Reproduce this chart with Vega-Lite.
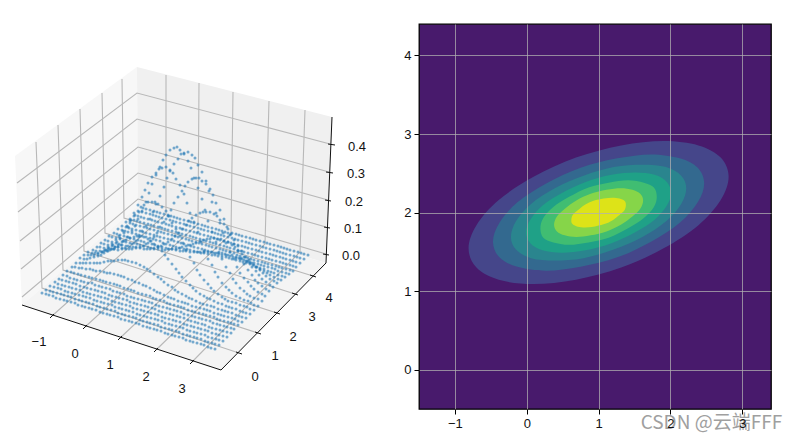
{"$schema":"https://vega.github.io/schema/vega-lite/v6.json","background":"white","padding":{"left":0,"top":23,"right":0,"bottom":0},"spacing":19,"bounds":"flush","config":{"font":"Liberation Sans"},"resolve":{"scale":{"fill":"independent"}},
"datasets":{
"panes":[{"pane":"a","i":0,"sx":15,"sy":155},{"pane":"a","i":1,"sx":137,"sy":66},{"pane":"a","i":2,"sx":138,"sy":205},{"pane":"a","i":3,"sx":22,"sy":304},
{"pane":"b","i":0,"sx":137,"sy":66},{"pane":"b","i":1,"sx":332,"sy":116},{"pane":"b","i":2,"sx":326,"sy":262},{"pane":"b","i":3,"sx":138,"sy":205},
{"pane":"c","i":0,"sx":22,"sy":304},{"pane":"c","i":1,"sx":138,"sy":205},{"pane":"c","i":2,"sx":326,"sy":262},{"pane":"c","i":3,"sx":221,"sy":369}],
"grid":[
{"g":"x-1","i":0,"sx":52,"sy":315},{"g":"x-1","i":1,"sx":166,"sy":213},{"g":"x-1","i":2,"sx":166,"sy":74},
{"g":"x0","i":0,"sx":85,"sy":326},{"g":"x0","i":1,"sx":198,"sy":223},{"g":"x0","i":2,"sx":199,"sy":82},
{"g":"x1","i":0,"sx":120,"sy":337},{"g":"x1","i":1,"sx":231,"sy":233},{"g":"x1","i":2,"sx":233,"sy":91},
{"g":"x2","i":0,"sx":156,"sy":349},{"g":"x2","i":1,"sx":265,"sy":243},{"g":"x2","i":2,"sx":269,"sy":100},
{"g":"x3","i":0,"sx":192,"sy":361},{"g":"x3","i":1,"sx":300,"sy":251},{"g":"x3","i":2,"sx":305,"sy":109},
{"g":"y0","i":0,"sx":239,"sy":352},{"g":"y0","i":1,"sx":42,"sy":287},{"g":"y0","i":2,"sx":36,"sy":141},
{"g":"y1","i":0,"sx":258,"sy":332},{"g":"y1","i":1,"sx":63,"sy":269},{"g":"y1","i":2,"sx":58,"sy":124},
{"g":"y2","i":0,"sx":277,"sy":312},{"g":"y2","i":1,"sx":84,"sy":250},{"g":"y2","i":2,"sx":80,"sy":108},
{"g":"y3","i":0,"sx":295,"sy":293},{"g":"y3","i":1,"sx":105,"sy":232},{"g":"y3","i":2,"sx":102,"sy":92},
{"g":"y4","i":0,"sx":313,"sy":275},{"g":"y4","i":1,"sx":124,"sy":217},{"g":"y4","i":2,"sx":122,"sy":78},
{"g":"z0","i":0,"sx":22,"sy":296},{"g":"z0","i":1,"sx":138,"sy":198},{"g":"z0","i":2,"sx":326,"sy":253},
{"g":"z1","i":0,"sx":21,"sy":268},{"g":"z1","i":1,"sx":138,"sy":172},{"g":"z1","i":2,"sx":326,"sy":226},
{"g":"z2","i":0,"sx":20,"sy":240},{"g":"z2","i":1,"sx":138,"sy":146},{"g":"z2","i":2,"sx":328,"sy":199},
{"g":"z3","i":0,"sx":18,"sy":211},{"g":"z3","i":1,"sx":137,"sy":118},{"g":"z3","i":2,"sx":329,"sy":171},
{"g":"z4","i":0,"sx":17,"sy":182},{"g":"z4","i":1,"sx":137,"sy":92},{"g":"z4","i":2,"sx":330,"sy":143}],
"axes":[
{"g":"ax","i":0,"sx":22,"sy":304},{"g":"ax","i":1,"sx":221,"sy":369},
{"g":"ay","i":0,"sx":221,"sy":369},{"g":"ay","i":1,"sx":326,"sy":262},
{"g":"az","i":0,"sx":326,"sy":262},{"g":"az","i":1,"sx":332,"sy":116},
{"g":"t1","i":0,"sx":50,"sy":317},{"g":"t1","i":1,"sx":54,"sy":313},
{"g":"t2","i":0,"sx":83,"sy":328},{"g":"t2","i":1,"sx":87,"sy":324},
{"g":"t3","i":0,"sx":118,"sy":339},{"g":"t3","i":1,"sx":122,"sy":335},
{"g":"t4","i":0,"sx":154,"sy":351},{"g":"t4","i":1,"sx":158,"sy":347},
{"g":"t5","i":0,"sx":190,"sy":363},{"g":"t5","i":1,"sx":194,"sy":359},
{"g":"t6","i":0,"sx":236,"sy":351},{"g":"t6","i":1,"sx":242,"sy":353},
{"g":"t7","i":0,"sx":255,"sy":331},{"g":"t7","i":1,"sx":261,"sy":333},
{"g":"t8","i":0,"sx":274,"sy":311},{"g":"t8","i":1,"sx":280,"sy":313},
{"g":"t9","i":0,"sx":292,"sy":292},{"g":"t9","i":1,"sx":298,"sy":294},
{"g":"t10","i":0,"sx":310,"sy":274},{"g":"t10","i":1,"sx":316,"sy":276},
{"g":"t11","i":0,"sx":323,"sy":253},{"g":"t11","i":1,"sx":329,"sy":254},
{"g":"t12","i":0,"sx":324,"sy":226},{"g":"t12","i":1,"sx":330,"sy":227},
{"g":"t13","i":0,"sx":325,"sy":199},{"g":"t13","i":1,"sx":331,"sy":200},
{"g":"t14","i":0,"sx":326,"sy":171},{"g":"t14","i":1,"sx":333,"sy":172},
{"g":"t15","i":0,"sx":328,"sy":143},{"g":"t15","i":1,"sx":335,"sy":144}],
"labels":[{"label":"−1","sx":39,"sy":341},{"label":"0","sx":75,"sy":353},{"label":"1","sx":110,"sy":364},{"label":"2","sx":146,"sy":376},{"label":"3","sx":182,"sy":388},
{"label":"0","sx":255,"sy":376},{"label":"1","sx":275,"sy":355},{"label":"2","sx":293,"sy":336},{"label":"3","sx":312,"sy":316},{"label":"4","sx":329,"sy":297},
{"label":"0.0","sx":351,"sy":255},{"label":"0.1","sx":353,"sy":228},{"label":"0.2","sx":354,"sy":201},{"label":"0.3","sx":356,"sy":173},{"label":"0.4","sx":357,"sy":146}],
"points":[
{"sx":42,"sy":292},{"sx":46,"sy":293},{"sx":49,"sy":294},{"sx":53,"sy":295},{"sx":56,"sy":297},{"sx":60,"sy":298},{"sx":64,"sy":299},{"sx":67,"sy":300},{"sx":71,"sy":301},{"sx":75,"sy":302},{"sx":78,"sy":304},{"sx":82,"sy":305},{"sx":85,"sy":306},{"sx":89,"sy":307},{"sx":92,"sy":308},{"sx":96,"sy":309},{"sx":100,"sy":311},{"sx":103,"sy":312},{"sx":107,"sy":313},{"sx":110,"sy":314},{"sx":114,"sy":315},{"sx":118,"sy":316},{"sx":121,"sy":318},{"sx":125,"sy":319},{"sx":129,"sy":320},{"sx":132,"sy":321},{"sx":136,"sy":322},{"sx":139,"sy":323},{"sx":143,"sy":325},{"sx":147,"sy":326},{"sx":150,"sy":327},{"sx":154,"sy":328},{"sx":157,"sy":329},{"sx":161,"sy":330},{"sx":165,"sy":332},{"sx":168,"sy":333},{"sx":172,"sy":334},{"sx":175,"sy":335},{"sx":179,"sy":336},{"sx":183,"sy":337},{"sx":186,"sy":339},{"sx":190,"sy":340},{"sx":193,"sy":341},{"sx":197,"sy":342},{"sx":201,"sy":343},{"sx":204,"sy":344},{"sx":208,"sy":346},{"sx":211,"sy":347},{"sx":215,"sy":348},
{"sx":46,"sy":289},{"sx":50,"sy":290},{"sx":53,"sy":291},{"sx":57,"sy":292},{"sx":61,"sy":293},{"sx":64,"sy":294},{"sx":68,"sy":295},{"sx":71,"sy":296},{"sx":75,"sy":298},{"sx":79,"sy":299},{"sx":82,"sy":300},{"sx":86,"sy":301},{"sx":89,"sy":302},{"sx":93,"sy":303},{"sx":97,"sy":305},{"sx":100,"sy":306},{"sx":104,"sy":307},{"sx":107,"sy":308},{"sx":111,"sy":309},{"sx":115,"sy":310},{"sx":118,"sy":312},{"sx":122,"sy":313},{"sx":125,"sy":314},{"sx":129,"sy":315},{"sx":133,"sy":316},{"sx":136,"sy":317},{"sx":140,"sy":319},{"sx":143,"sy":320},{"sx":147,"sy":321},{"sx":150,"sy":322},{"sx":154,"sy":323},{"sx":158,"sy":324},{"sx":161,"sy":326},{"sx":165,"sy":327},{"sx":169,"sy":328},{"sx":172,"sy":329},{"sx":176,"sy":330},{"sx":179,"sy":331},{"sx":183,"sy":333},{"sx":187,"sy":334},{"sx":190,"sy":335},{"sx":194,"sy":336},{"sx":197,"sy":337},{"sx":201,"sy":338},{"sx":205,"sy":340},{"sx":208,"sy":341},{"sx":212,"sy":342},{"sx":215,"sy":343},{"sx":219,"sy":344},
{"sx":50,"sy":285},{"sx":54,"sy":286},{"sx":58,"sy":287},{"sx":61,"sy":288},{"sx":65,"sy":290},{"sx":68,"sy":291},{"sx":72,"sy":292},{"sx":75,"sy":293},{"sx":79,"sy":294},{"sx":83,"sy":295},{"sx":86,"sy":296},{"sx":90,"sy":297},{"sx":94,"sy":299},{"sx":97,"sy":300},{"sx":101,"sy":301},{"sx":104,"sy":302},{"sx":108,"sy":303},{"sx":112,"sy":304},{"sx":115,"sy":306},{"sx":119,"sy":307},{"sx":122,"sy":308},{"sx":126,"sy":309},{"sx":129,"sy":310},{"sx":133,"sy":311},{"sx":137,"sy":313},{"sx":140,"sy":314},{"sx":144,"sy":315},{"sx":147,"sy":316},{"sx":151,"sy":317},{"sx":155,"sy":318},{"sx":158,"sy":319},{"sx":162,"sy":320},{"sx":165,"sy":322},{"sx":169,"sy":323},{"sx":172,"sy":324},{"sx":176,"sy":325},{"sx":180,"sy":326},{"sx":183,"sy":327},{"sx":187,"sy":329},{"sx":190,"sy":330},{"sx":194,"sy":331},{"sx":197,"sy":332},{"sx":201,"sy":333},{"sx":205,"sy":334},{"sx":208,"sy":336},{"sx":212,"sy":337},{"sx":216,"sy":338},{"sx":219,"sy":339},{"sx":223,"sy":340},
{"sx":55,"sy":281},{"sx":58,"sy":283},{"sx":62,"sy":284},{"sx":65,"sy":285},{"sx":69,"sy":286},{"sx":72,"sy":287},{"sx":76,"sy":288},{"sx":80,"sy":289},{"sx":83,"sy":291},{"sx":87,"sy":292},{"sx":90,"sy":293},{"sx":94,"sy":294},{"sx":98,"sy":295},{"sx":101,"sy":296},{"sx":105,"sy":297},{"sx":108,"sy":298},{"sx":112,"sy":300},{"sx":115,"sy":301},{"sx":119,"sy":302},{"sx":122,"sy":303},{"sx":126,"sy":304},{"sx":130,"sy":305},{"sx":133,"sy":307},{"sx":137,"sy":308},{"sx":141,"sy":309},{"sx":144,"sy":310},{"sx":148,"sy":311},{"sx":151,"sy":312},{"sx":155,"sy":313},{"sx":158,"sy":314},{"sx":162,"sy":316},{"sx":165,"sy":317},{"sx":169,"sy":318},{"sx":173,"sy":319},{"sx":176,"sy":320},{"sx":180,"sy":321},{"sx":184,"sy":323},{"sx":187,"sy":324},{"sx":191,"sy":325},{"sx":194,"sy":326},{"sx":198,"sy":327},{"sx":201,"sy":328},{"sx":205,"sy":329},{"sx":208,"sy":330},{"sx":212,"sy":332},{"sx":216,"sy":333},{"sx":219,"sy":334},{"sx":223,"sy":335},{"sx":227,"sy":336},
{"sx":59,"sy":278},{"sx":62,"sy":279},{"sx":66,"sy":280},{"sx":69,"sy":281},{"sx":73,"sy":282},{"sx":76,"sy":283},{"sx":80,"sy":285},{"sx":84,"sy":286},{"sx":87,"sy":287},{"sx":91,"sy":288},{"sx":95,"sy":289},{"sx":98,"sy":290},{"sx":102,"sy":291},{"sx":105,"sy":292},{"sx":109,"sy":294},{"sx":112,"sy":295},{"sx":116,"sy":296},{"sx":119,"sy":297},{"sx":123,"sy":298},{"sx":127,"sy":299},{"sx":130,"sy":301},{"sx":134,"sy":302},{"sx":137,"sy":303},{"sx":141,"sy":304},{"sx":145,"sy":305},{"sx":148,"sy":306},{"sx":152,"sy":307},{"sx":155,"sy":308},{"sx":159,"sy":310},{"sx":162,"sy":311},{"sx":166,"sy":312},{"sx":170,"sy":313},{"sx":173,"sy":314},{"sx":177,"sy":315},{"sx":180,"sy":316},{"sx":184,"sy":317},{"sx":188,"sy":319},{"sx":191,"sy":320},{"sx":195,"sy":321},{"sx":198,"sy":322},{"sx":202,"sy":323},{"sx":205,"sy":324},{"sx":209,"sy":326},{"sx":212,"sy":327},{"sx":216,"sy":328},{"sx":220,"sy":329},{"sx":223,"sy":330},{"sx":227,"sy":331},{"sx":231,"sy":332},
{"sx":63,"sy":274},{"sx":67,"sy":275},{"sx":70,"sy":277},{"sx":74,"sy":278},{"sx":77,"sy":279},{"sx":81,"sy":280},{"sx":84,"sy":281},{"sx":88,"sy":282},{"sx":92,"sy":282},{"sx":95,"sy":284},{"sx":99,"sy":285},{"sx":102,"sy":286},{"sx":106,"sy":287},{"sx":110,"sy":288},{"sx":113,"sy":290},{"sx":117,"sy":291},{"sx":120,"sy":292},{"sx":124,"sy":293},{"sx":127,"sy":295},{"sx":131,"sy":296},{"sx":134,"sy":297},{"sx":138,"sy":298},{"sx":142,"sy":299},{"sx":145,"sy":300},{"sx":149,"sy":301},{"sx":152,"sy":302},{"sx":156,"sy":304},{"sx":159,"sy":305},{"sx":163,"sy":306},{"sx":167,"sy":307},{"sx":170,"sy":308},{"sx":174,"sy":309},{"sx":177,"sy":310},{"sx":181,"sy":311},{"sx":184,"sy":313},{"sx":188,"sy":314},{"sx":192,"sy":315},{"sx":195,"sy":316},{"sx":199,"sy":317},{"sx":202,"sy":318},{"sx":206,"sy":319},{"sx":210,"sy":320},{"sx":213,"sy":322},{"sx":217,"sy":323},{"sx":220,"sy":324},{"sx":224,"sy":325},{"sx":227,"sy":326},{"sx":231,"sy":327},{"sx":234,"sy":328},
{"sx":67,"sy":270},{"sx":71,"sy":271},{"sx":74,"sy":272},{"sx":78,"sy":273},{"sx":81,"sy":274},{"sx":85,"sy":275},{"sx":89,"sy":276},{"sx":92,"sy":277},{"sx":96,"sy":278},{"sx":100,"sy":279},{"sx":103,"sy":280},{"sx":106,"sy":281},{"sx":110,"sy":282},{"sx":114,"sy":283},{"sx":117,"sy":284},{"sx":120,"sy":285},{"sx":124,"sy":287},{"sx":128,"sy":288},{"sx":131,"sy":289},{"sx":134,"sy":290},{"sx":138,"sy":292},{"sx":142,"sy":293},{"sx":146,"sy":294},{"sx":150,"sy":295},{"sx":153,"sy":297},{"sx":156,"sy":298},{"sx":160,"sy":299},{"sx":164,"sy":300},{"sx":167,"sy":302},{"sx":170,"sy":303},{"sx":174,"sy":304},{"sx":178,"sy":305},{"sx":181,"sy":306},{"sx":184,"sy":307},{"sx":188,"sy":309},{"sx":192,"sy":310},{"sx":195,"sy":311},{"sx":199,"sy":312},{"sx":203,"sy":313},{"sx":206,"sy":314},{"sx":210,"sy":315},{"sx":214,"sy":316},{"sx":217,"sy":318},{"sx":220,"sy":319},{"sx":224,"sy":320},{"sx":228,"sy":321},{"sx":231,"sy":322},{"sx":234,"sy":323},{"sx":238,"sy":324},
{"sx":72,"sy":266},{"sx":75,"sy":266},{"sx":79,"sy":267},{"sx":82,"sy":267},{"sx":86,"sy":268},{"sx":90,"sy":268},{"sx":93,"sy":269},{"sx":96,"sy":270},{"sx":100,"sy":270},{"sx":104,"sy":271},{"sx":107,"sy":272},{"sx":110,"sy":272},{"sx":114,"sy":273},{"sx":118,"sy":274},{"sx":121,"sy":275},{"sx":124,"sy":276},{"sx":128,"sy":278},{"sx":132,"sy":279},{"sx":135,"sy":281},{"sx":139,"sy":282},{"sx":143,"sy":284},{"sx":146,"sy":285},{"sx":150,"sy":287},{"sx":154,"sy":289},{"sx":157,"sy":291},{"sx":160,"sy":292},{"sx":164,"sy":294},{"sx":168,"sy":296},{"sx":171,"sy":297},{"sx":174,"sy":298},{"sx":178,"sy":300},{"sx":182,"sy":301},{"sx":185,"sy":302},{"sx":188,"sy":303},{"sx":192,"sy":305},{"sx":196,"sy":306},{"sx":200,"sy":307},{"sx":204,"sy":308},{"sx":207,"sy":309},{"sx":210,"sy":310},{"sx":214,"sy":312},{"sx":218,"sy":313},{"sx":221,"sy":314},{"sx":224,"sy":315},{"sx":228,"sy":316},{"sx":232,"sy":317},{"sx":235,"sy":318},{"sx":238,"sy":320},{"sx":242,"sy":321},
{"sx":76,"sy":262},{"sx":80,"sy":262},{"sx":83,"sy":262},{"sx":86,"sy":262},{"sx":90,"sy":262},{"sx":94,"sy":262},{"sx":97,"sy":262},{"sx":100,"sy":262},{"sx":104,"sy":261},{"sx":108,"sy":260},{"sx":111,"sy":260},{"sx":114,"sy":260},{"sx":118,"sy":259},{"sx":122,"sy":259},{"sx":125,"sy":259},{"sx":128,"sy":260},{"sx":132,"sy":261},{"sx":136,"sy":262},{"sx":140,"sy":264},{"sx":144,"sy":266},{"sx":147,"sy":268},{"sx":150,"sy":270},{"sx":154,"sy":273},{"sx":158,"sy":276},{"sx":161,"sy":278},{"sx":164,"sy":281},{"sx":168,"sy":284},{"sx":172,"sy":286},{"sx":175,"sy":289},{"sx":178,"sy":291},{"sx":182,"sy":293},{"sx":186,"sy":295},{"sx":189,"sy":297},{"sx":192,"sy":298},{"sx":196,"sy":300},{"sx":200,"sy":302},{"sx":203,"sy":303},{"sx":207,"sy":304},{"sx":211,"sy":305},{"sx":214,"sy":306},{"sx":218,"sy":308},{"sx":222,"sy":309},{"sx":225,"sy":310},{"sx":228,"sy":311},{"sx":232,"sy":312},{"sx":236,"sy":314},{"sx":239,"sy":315},{"sx":242,"sy":316},{"sx":246,"sy":317},
{"sx":80,"sy":257},{"sx":84,"sy":258},{"sx":87,"sy":258},{"sx":90,"sy":257},{"sx":94,"sy":256},{"sx":98,"sy":255},{"sx":101,"sy":254},{"sx":104,"sy":252},{"sx":108,"sy":250},{"sx":112,"sy":248},{"sx":115,"sy":246},{"sx":118,"sy":244},{"sx":122,"sy":241},{"sx":126,"sy":239},{"sx":130,"sy":237},{"sx":134,"sy":236},{"sx":137,"sy":235},{"sx":140,"sy":235},{"sx":144,"sy":236},{"sx":148,"sy":238},{"sx":151,"sy":240},{"sx":154,"sy":243},{"sx":158,"sy":246},{"sx":162,"sy":250},{"sx":165,"sy":254},{"sx":168,"sy":258},{"sx":172,"sy":263},{"sx":176,"sy":268},{"sx":179,"sy":272},{"sx":182,"sy":276},{"sx":186,"sy":280},{"sx":190,"sy":284},{"sx":193,"sy":287},{"sx":196,"sy":290},{"sx":200,"sy":293},{"sx":204,"sy":295},{"sx":207,"sy":297},{"sx":210,"sy":298},{"sx":214,"sy":300},{"sx":218,"sy":302},{"sx":222,"sy":303},{"sx":226,"sy":305},{"sx":229,"sy":306},{"sx":232,"sy":307},{"sx":236,"sy":308},{"sx":240,"sy":310},{"sx":243,"sy":311},{"sx":246,"sy":312},{"sx":250,"sy":313},
{"sx":84,"sy":254},{"sx":88,"sy":254},{"sx":91,"sy":254},{"sx":94,"sy":254},{"sx":98,"sy":253},{"sx":102,"sy":251},{"sx":105,"sy":249},{"sx":108,"sy":246},{"sx":112,"sy":243},{"sx":116,"sy":239},{"sx":119,"sy":235},{"sx":123,"sy":230},{"sx":127,"sy":225},{"sx":130,"sy":220},{"sx":134,"sy":215},{"sx":138,"sy":210},{"sx":141,"sy":206},{"sx":144,"sy":204},{"sx":148,"sy":201},{"sx":152,"sy":201},{"sx":155,"sy":201},{"sx":158,"sy":203},{"sx":162,"sy":206},{"sx":166,"sy":210},{"sx":169,"sy":215},{"sx":172,"sy":222},{"sx":176,"sy":228},{"sx":180,"sy":235},{"sx":183,"sy":242},{"sx":186,"sy":249},{"sx":190,"sy":256},{"sx":194,"sy":262},{"sx":197,"sy":269},{"sx":200,"sy":274},{"sx":204,"sy":279},{"sx":208,"sy":283},{"sx":211,"sy":287},{"sx":214,"sy":290},{"sx":218,"sy":293},{"sx":222,"sy":296},{"sx":225,"sy":298},{"sx":228,"sy":300},{"sx":232,"sy":301},{"sx":236,"sy":302},{"sx":240,"sy":304},{"sx":244,"sy":305},{"sx":247,"sy":306},{"sx":250,"sy":308},{"sx":254,"sy":309},
{"sx":88,"sy":251},{"sx":92,"sy":252},{"sx":95,"sy":252},{"sx":98,"sy":252},{"sx":102,"sy":251},{"sx":106,"sy":249},{"sx":109,"sy":247},{"sx":113,"sy":244},{"sx":117,"sy":241},{"sx":120,"sy":237},{"sx":124,"sy":232},{"sx":128,"sy":226},{"sx":131,"sy":219},{"sx":134,"sy":212},{"sx":138,"sy":204},{"sx":142,"sy":196},{"sx":145,"sy":189},{"sx":148,"sy":182},{"sx":152,"sy":176},{"sx":156,"sy":172},{"sx":159,"sy":168},{"sx":162,"sy":167},{"sx":166,"sy":166},{"sx":170,"sy":169},{"sx":173,"sy":172},{"sx":176,"sy":178},{"sx":180,"sy":184},{"sx":184,"sy":193},{"sx":187,"sy":202},{"sx":190,"sy":212},{"sx":194,"sy":221},{"sx":198,"sy":231},{"sx":201,"sy":241},{"sx":204,"sy":250},{"sx":208,"sy":258},{"sx":212,"sy":264},{"sx":215,"sy":271},{"sx":218,"sy":276},{"sx":222,"sy":282},{"sx":226,"sy":286},{"sx":229,"sy":289},{"sx":232,"sy":292},{"sx":236,"sy":295},{"sx":240,"sy":297},{"sx":244,"sy":299},{"sx":248,"sy":300},{"sx":251,"sy":302},{"sx":254,"sy":304},{"sx":258,"sy":305},
{"sx":93,"sy":249},{"sx":96,"sy":250},{"sx":100,"sy":250},{"sx":104,"sy":250},{"sx":107,"sy":250},{"sx":110,"sy":249},{"sx":114,"sy":248},{"sx":118,"sy":246},{"sx":121,"sy":244},{"sx":124,"sy":240},{"sx":128,"sy":236},{"sx":132,"sy":230},{"sx":135,"sy":225},{"sx":138,"sy":218},{"sx":142,"sy":210},{"sx":146,"sy":201},{"sx":149,"sy":192},{"sx":152,"sy":183},{"sx":156,"sy":174},{"sx":160,"sy":166},{"sx":163,"sy":159},{"sx":166,"sy":154},{"sx":170,"sy":149},{"sx":174,"sy":147},{"sx":177,"sy":146},{"sx":180,"sy":149},{"sx":184,"sy":153},{"sx":188,"sy":160},{"sx":191,"sy":167},{"sx":194,"sy":177},{"sx":198,"sy":187},{"sx":202,"sy":198},{"sx":205,"sy":209},{"sx":208,"sy":220},{"sx":212,"sy":231},{"sx":216,"sy":241},{"sx":219,"sy":251},{"sx":222,"sy":258},{"sx":226,"sy":266},{"sx":230,"sy":272},{"sx":233,"sy":278},{"sx":236,"sy":282},{"sx":240,"sy":287},{"sx":244,"sy":290},{"sx":247,"sy":293},{"sx":250,"sy":295},{"sx":254,"sy":297},{"sx":258,"sy":298},{"sx":262,"sy":300},
{"sx":97,"sy":246},{"sx":100,"sy":246},{"sx":104,"sy":247},{"sx":108,"sy":248},{"sx":111,"sy":248},{"sx":114,"sy":248},{"sx":118,"sy":249},{"sx":122,"sy":248},{"sx":125,"sy":247},{"sx":128,"sy":245},{"sx":132,"sy":243},{"sx":136,"sy":240},{"sx":139,"sy":236},{"sx":142,"sy":230},{"sx":146,"sy":225},{"sx":150,"sy":218},{"sx":153,"sy":211},{"sx":156,"sy":203},{"sx":160,"sy":195},{"sx":164,"sy":186},{"sx":167,"sy":177},{"sx":170,"sy":170},{"sx":174,"sy":163},{"sx":178,"sy":158},{"sx":181,"sy":153},{"sx":184,"sy":152},{"sx":188,"sy":151},{"sx":192,"sy":154},{"sx":195,"sy":157},{"sx":198,"sy":164},{"sx":202,"sy":171},{"sx":206,"sy":180},{"sx":209,"sy":190},{"sx":212,"sy":201},{"sx":216,"sy":212},{"sx":220,"sy":222},{"sx":223,"sy":232},{"sx":226,"sy":242},{"sx":230,"sy":251},{"sx":234,"sy":258},{"sx":237,"sy":266},{"sx":240,"sy":272},{"sx":244,"sy":277},{"sx":248,"sy":281},{"sx":251,"sy":285},{"sx":254,"sy":288},{"sx":258,"sy":291},{"sx":262,"sy":293},{"sx":265,"sy":295},
{"sx":101,"sy":242},{"sx":104,"sy":243},{"sx":108,"sy":244},{"sx":112,"sy":245},{"sx":115,"sy":246},{"sx":118,"sy":246},{"sx":122,"sy":247},{"sx":126,"sy":248},{"sx":129,"sy":248},{"sx":132,"sy":248},{"sx":136,"sy":247},{"sx":140,"sy":246},{"sx":143,"sy":245},{"sx":146,"sy":243},{"sx":150,"sy":240},{"sx":154,"sy":236},{"sx":157,"sy":232},{"sx":160,"sy":226},{"sx":164,"sy":221},{"sx":168,"sy":215},{"sx":171,"sy":209},{"sx":174,"sy":202},{"sx":178,"sy":196},{"sx":182,"sy":190},{"sx":185,"sy":185},{"sx":188,"sy":181},{"sx":192,"sy":178},{"sx":196,"sy":177},{"sx":199,"sy":177},{"sx":202,"sy":180},{"sx":206,"sy":183},{"sx":210,"sy":188},{"sx":213,"sy":194},{"sx":216,"sy":202},{"sx":220,"sy":209},{"sx":224,"sy":218},{"sx":227,"sy":226},{"sx":230,"sy":234},{"sx":234,"sy":243},{"sx":238,"sy":250},{"sx":241,"sy":257},{"sx":244,"sy":263},{"sx":248,"sy":269},{"sx":252,"sy":274},{"sx":255,"sy":279},{"sx":258,"sy":282},{"sx":262,"sy":285},{"sx":266,"sy":288},{"sx":269,"sy":290},
{"sx":105,"sy":239},{"sx":108,"sy":240},{"sx":112,"sy":241},{"sx":116,"sy":242},{"sx":119,"sy":243},{"sx":122,"sy":244},{"sx":126,"sy":245},{"sx":130,"sy":246},{"sx":133,"sy":246},{"sx":136,"sy":246},{"sx":140,"sy":247},{"sx":144,"sy":248},{"sx":147,"sy":248},{"sx":150,"sy":248},{"sx":154,"sy":247},{"sx":158,"sy":246},{"sx":161,"sy":245},{"sx":164,"sy":243},{"sx":168,"sy":241},{"sx":172,"sy":238},{"sx":175,"sy":235},{"sx":178,"sy":232},{"sx":182,"sy":228},{"sx":186,"sy":224},{"sx":189,"sy":220},{"sx":192,"sy":217},{"sx":196,"sy":214},{"sx":200,"sy":212},{"sx":203,"sy":211},{"sx":206,"sy":211},{"sx":210,"sy":211},{"sx":214,"sy":213},{"sx":217,"sy":215},{"sx":220,"sy":219},{"sx":224,"sy":223},{"sx":228,"sy":228},{"sx":231,"sy":233},{"sx":234,"sy":239},{"sx":238,"sy":245},{"sx":242,"sy":250},{"sx":245,"sy":256},{"sx":248,"sy":261},{"sx":252,"sy":266},{"sx":256,"sy":270},{"sx":259,"sy":274},{"sx":262,"sy":278},{"sx":266,"sy":281},{"sx":270,"sy":284},{"sx":273,"sy":286},
{"sx":109,"sy":235},{"sx":112,"sy":236},{"sx":116,"sy":237},{"sx":120,"sy":238},{"sx":123,"sy":240},{"sx":126,"sy":241},{"sx":130,"sy":242},{"sx":134,"sy":242},{"sx":137,"sy":243},{"sx":140,"sy":244},{"sx":144,"sy":245},{"sx":148,"sy":246},{"sx":151,"sy":247},{"sx":154,"sy":248},{"sx":158,"sy":248},{"sx":162,"sy":248},{"sx":165,"sy":249},{"sx":168,"sy":248},{"sx":172,"sy":248},{"sx":176,"sy":248},{"sx":179,"sy":247},{"sx":182,"sy":246},{"sx":186,"sy":245},{"sx":190,"sy":244},{"sx":193,"sy":243},{"sx":196,"sy":242},{"sx":200,"sy":240},{"sx":204,"sy":239},{"sx":207,"sy":238},{"sx":210,"sy":238},{"sx":214,"sy":237},{"sx":218,"sy":238},{"sx":221,"sy":238},{"sx":224,"sy":240},{"sx":228,"sy":241},{"sx":232,"sy":244},{"sx":235,"sy":246},{"sx":238,"sy":250},{"sx":242,"sy":253},{"sx":246,"sy":256},{"sx":249,"sy":259},{"sx":252,"sy":262},{"sx":256,"sy":266},{"sx":260,"sy":269},{"sx":263,"sy":272},{"sx":266,"sy":275},{"sx":270,"sy":278},{"sx":274,"sy":280},{"sx":277,"sy":282},
{"sx":114,"sy":232},{"sx":117,"sy":233},{"sx":120,"sy":234},{"sx":124,"sy":235},{"sx":127,"sy":236},{"sx":130,"sy":237},{"sx":134,"sy":238},{"sx":138,"sy":239},{"sx":141,"sy":240},{"sx":144,"sy":241},{"sx":148,"sy":242},{"sx":152,"sy":243},{"sx":155,"sy":244},{"sx":158,"sy":245},{"sx":162,"sy":246},{"sx":166,"sy":247},{"sx":169,"sy":248},{"sx":172,"sy":248},{"sx":176,"sy":249},{"sx":180,"sy":250},{"sx":183,"sy":250},{"sx":186,"sy":250},{"sx":190,"sy":251},{"sx":194,"sy":251},{"sx":197,"sy":251},{"sx":200,"sy":251},{"sx":204,"sy":251},{"sx":208,"sy":251},{"sx":211,"sy":251},{"sx":214,"sy":252},{"sx":218,"sy":252},{"sx":222,"sy":252},{"sx":225,"sy":253},{"sx":228,"sy":254},{"sx":232,"sy":254},{"sx":236,"sy":256},{"sx":239,"sy":257},{"sx":242,"sy":258},{"sx":246,"sy":260},{"sx":250,"sy":262},{"sx":253,"sy":264},{"sx":256,"sy":266},{"sx":260,"sy":268},{"sx":264,"sy":270},{"sx":267,"sy":272},{"sx":270,"sy":274},{"sx":274,"sy":276},{"sx":278,"sy":278},{"sx":281,"sy":279},
{"sx":118,"sy":228},{"sx":122,"sy":229},{"sx":125,"sy":230},{"sx":128,"sy":231},{"sx":132,"sy":232},{"sx":136,"sy":233},{"sx":139,"sy":234},{"sx":142,"sy":235},{"sx":146,"sy":236},{"sx":150,"sy":237},{"sx":153,"sy":238},{"sx":156,"sy":239},{"sx":160,"sy":240},{"sx":163,"sy":242},{"sx":166,"sy":243},{"sx":170,"sy":244},{"sx":173,"sy":245},{"sx":176,"sy":246},{"sx":180,"sy":247},{"sx":184,"sy":248},{"sx":187,"sy":248},{"sx":190,"sy":249},{"sx":194,"sy":250},{"sx":198,"sy":251},{"sx":201,"sy":252},{"sx":204,"sy":252},{"sx":208,"sy":253},{"sx":212,"sy":254},{"sx":215,"sy":254},{"sx":218,"sy":255},{"sx":222,"sy":256},{"sx":226,"sy":256},{"sx":229,"sy":257},{"sx":232,"sy":258},{"sx":236,"sy":259},{"sx":240,"sy":260},{"sx":243,"sy":261},{"sx":246,"sy":262},{"sx":250,"sy":263},{"sx":254,"sy":264},{"sx":257,"sy":266},{"sx":260,"sy":267},{"sx":264,"sy":268},{"sx":268,"sy":270},{"sx":271,"sy":271},{"sx":274,"sy":272},{"sx":278,"sy":274},{"sx":282,"sy":275},{"sx":285,"sy":276},
{"sx":122,"sy":225},{"sx":126,"sy":226},{"sx":129,"sy":227},{"sx":132,"sy":228},{"sx":136,"sy":229},{"sx":140,"sy":230},{"sx":143,"sy":231},{"sx":146,"sy":232},{"sx":150,"sy":233},{"sx":154,"sy":234},{"sx":157,"sy":235},{"sx":160,"sy":236},{"sx":164,"sy":237},{"sx":168,"sy":238},{"sx":171,"sy":239},{"sx":174,"sy":240},{"sx":178,"sy":241},{"sx":181,"sy":242},{"sx":184,"sy":243},{"sx":188,"sy":244},{"sx":191,"sy":245},{"sx":194,"sy":246},{"sx":198,"sy":247},{"sx":202,"sy":248},{"sx":205,"sy":249},{"sx":208,"sy":250},{"sx":212,"sy":251},{"sx":216,"sy":252},{"sx":219,"sy":253},{"sx":222,"sy":254},{"sx":226,"sy":254},{"sx":230,"sy":255},{"sx":233,"sy":256},{"sx":236,"sy":257},{"sx":240,"sy":258},{"sx":244,"sy":259},{"sx":247,"sy":260},{"sx":250,"sy":261},{"sx":254,"sy":262},{"sx":258,"sy":263},{"sx":261,"sy":264},{"sx":264,"sy":265},{"sx":268,"sy":266},{"sx":272,"sy":267},{"sx":275,"sy":268},{"sx":278,"sy":270},{"sx":282,"sy":271},{"sx":286,"sy":272},{"sx":289,"sy":273},
{"sx":126,"sy":221},{"sx":130,"sy":222},{"sx":133,"sy":223},{"sx":136,"sy":224},{"sx":140,"sy":225},{"sx":144,"sy":226},{"sx":147,"sy":227},{"sx":150,"sy":228},{"sx":154,"sy":229},{"sx":158,"sy":230},{"sx":161,"sy":231},{"sx":164,"sy":232},{"sx":168,"sy":233},{"sx":172,"sy":234},{"sx":175,"sy":235},{"sx":178,"sy":236},{"sx":182,"sy":237},{"sx":186,"sy":238},{"sx":189,"sy":239},{"sx":192,"sy":240},{"sx":196,"sy":241},{"sx":199,"sy":242},{"sx":202,"sy":243},{"sx":206,"sy":244},{"sx":209,"sy":245},{"sx":212,"sy":246},{"sx":216,"sy":247},{"sx":220,"sy":248},{"sx":223,"sy":249},{"sx":226,"sy":250},{"sx":230,"sy":251},{"sx":234,"sy":252},{"sx":237,"sy":254},{"sx":240,"sy":255},{"sx":244,"sy":256},{"sx":248,"sy":257},{"sx":251,"sy":258},{"sx":254,"sy":259},{"sx":258,"sy":260},{"sx":262,"sy":261},{"sx":265,"sy":262},{"sx":268,"sy":263},{"sx":272,"sy":264},{"sx":276,"sy":265},{"sx":279,"sy":266},{"sx":282,"sy":267},{"sx":286,"sy":268},{"sx":290,"sy":269},{"sx":293,"sy":270},
{"sx":130,"sy":218},{"sx":134,"sy":219},{"sx":137,"sy":220},{"sx":140,"sy":221},{"sx":144,"sy":222},{"sx":148,"sy":223},{"sx":151,"sy":224},{"sx":154,"sy":225},{"sx":158,"sy":226},{"sx":162,"sy":227},{"sx":165,"sy":228},{"sx":168,"sy":229},{"sx":172,"sy":230},{"sx":176,"sy":231},{"sx":179,"sy":232},{"sx":182,"sy":233},{"sx":186,"sy":234},{"sx":190,"sy":235},{"sx":193,"sy":236},{"sx":196,"sy":237},{"sx":200,"sy":238},{"sx":203,"sy":239},{"sx":206,"sy":240},{"sx":210,"sy":241},{"sx":213,"sy":242},{"sx":216,"sy":243},{"sx":220,"sy":244},{"sx":224,"sy":245},{"sx":227,"sy":246},{"sx":230,"sy":247},{"sx":234,"sy":248},{"sx":238,"sy":249},{"sx":241,"sy":250},{"sx":244,"sy":251},{"sx":248,"sy":252},{"sx":252,"sy":253},{"sx":255,"sy":254},{"sx":258,"sy":255},{"sx":262,"sy":256},{"sx":266,"sy":257},{"sx":269,"sy":258},{"sx":272,"sy":259},{"sx":276,"sy":260},{"sx":280,"sy":261},{"sx":283,"sy":262},{"sx":286,"sy":263},{"sx":290,"sy":264},{"sx":293,"sy":265},{"sx":296,"sy":266},
{"sx":135,"sy":214},{"sx":138,"sy":215},{"sx":141,"sy":216},{"sx":144,"sy":217},{"sx":148,"sy":218},{"sx":152,"sy":219},{"sx":155,"sy":220},{"sx":158,"sy":221},{"sx":162,"sy":222},{"sx":166,"sy":223},{"sx":169,"sy":224},{"sx":172,"sy":225},{"sx":176,"sy":226},{"sx":180,"sy":227},{"sx":183,"sy":228},{"sx":186,"sy":229},{"sx":190,"sy":230},{"sx":194,"sy":231},{"sx":197,"sy":232},{"sx":200,"sy":233},{"sx":204,"sy":234},{"sx":208,"sy":235},{"sx":211,"sy":236},{"sx":214,"sy":237},{"sx":217,"sy":238},{"sx":220,"sy":239},{"sx":224,"sy":240},{"sx":228,"sy":241},{"sx":231,"sy":242},{"sx":234,"sy":243},{"sx":238,"sy":244},{"sx":242,"sy":245},{"sx":245,"sy":246},{"sx":248,"sy":247},{"sx":252,"sy":248},{"sx":256,"sy":249},{"sx":259,"sy":250},{"sx":262,"sy":251},{"sx":266,"sy":252},{"sx":270,"sy":253},{"sx":273,"sy":254},{"sx":276,"sy":255},{"sx":280,"sy":256},{"sx":283,"sy":257},{"sx":286,"sy":258},{"sx":290,"sy":259},{"sx":293,"sy":260},{"sx":296,"sy":261},{"sx":300,"sy":262},
{"sx":139,"sy":211},{"sx":142,"sy":211},{"sx":146,"sy":212},{"sx":150,"sy":213},{"sx":153,"sy":214},{"sx":156,"sy":215},{"sx":159,"sy":216},{"sx":162,"sy":217},{"sx":166,"sy":218},{"sx":170,"sy":219},{"sx":173,"sy":220},{"sx":176,"sy":221},{"sx":180,"sy":222},{"sx":184,"sy":223},{"sx":187,"sy":224},{"sx":190,"sy":225},{"sx":194,"sy":226},{"sx":198,"sy":227},{"sx":201,"sy":228},{"sx":204,"sy":229},{"sx":208,"sy":230},{"sx":212,"sy":231},{"sx":215,"sy":232},{"sx":218,"sy":233},{"sx":221,"sy":234},{"sx":224,"sy":235},{"sx":228,"sy":236},{"sx":232,"sy":237},{"sx":235,"sy":238},{"sx":238,"sy":239},{"sx":242,"sy":240},{"sx":246,"sy":241},{"sx":249,"sy":242},{"sx":252,"sy":243},{"sx":256,"sy":244},{"sx":260,"sy":245},{"sx":263,"sy":246},{"sx":266,"sy":247},{"sx":270,"sy":248},{"sx":274,"sy":249},{"sx":277,"sy":250},{"sx":280,"sy":251},{"sx":283,"sy":252},{"sx":286,"sy":253},{"sx":290,"sy":254},{"sx":294,"sy":255},{"sx":297,"sy":256},{"sx":300,"sy":257},{"sx":304,"sy":258},
{"sx":143,"sy":207},{"sx":146,"sy":208},{"sx":150,"sy":209},{"sx":154,"sy":210},{"sx":157,"sy":211},{"sx":160,"sy":212},{"sx":164,"sy":213},{"sx":168,"sy":214},{"sx":171,"sy":215},{"sx":174,"sy":216},{"sx":177,"sy":217},{"sx":180,"sy":218},{"sx":184,"sy":219},{"sx":188,"sy":220},{"sx":191,"sy":221},{"sx":194,"sy":222},{"sx":198,"sy":223},{"sx":202,"sy":224},{"sx":205,"sy":225},{"sx":208,"sy":226},{"sx":212,"sy":227},{"sx":216,"sy":228},{"sx":219,"sy":229},{"sx":222,"sy":230},{"sx":225,"sy":231},{"sx":228,"sy":232},{"sx":232,"sy":232},{"sx":236,"sy":233},{"sx":239,"sy":234},{"sx":242,"sy":235},{"sx":246,"sy":236},{"sx":250,"sy":237},{"sx":253,"sy":238},{"sx":256,"sy":239},{"sx":260,"sy":240},{"sx":264,"sy":241},{"sx":267,"sy":242},{"sx":270,"sy":243},{"sx":274,"sy":244},{"sx":278,"sy":245},{"sx":281,"sy":246},{"sx":284,"sy":247},{"sx":287,"sy":248},{"sx":290,"sy":249},{"sx":294,"sy":250},{"sx":298,"sy":251},{"sx":301,"sy":252},{"sx":304,"sy":253},{"sx":308,"sy":254}],
"contours":[
{"level":0.05,"i":0,"x":2.81,"y":2.455},{"level":0.05,"i":1,"x":2.70,"y":2.70},{"level":0.05,"i":2,"x":2.39,"y":2.855},{"level":0.05,"i":3,"x":1.905,"y":2.91},{"level":0.05,"i":4,"x":1.315,"y":2.855},{"level":0.05,"i":5,"x":0.685,"y":2.70},{"level":0.05,"i":6,"x":0.095,"y":2.455},{"level":0.05,"i":7,"x":-0.39,"y":2.16},{"level":0.05,"i":8,"x":-0.70,"y":1.84},{"level":0.05,"i":9,"x":-0.81,"y":1.545},{"level":0.05,"i":10,"x":-0.70,"y":1.30},{"level":0.05,"i":11,"x":-0.39,"y":1.145},{"level":0.05,"i":12,"x":0.095,"y":1.09},{"level":0.05,"i":13,"x":0.685,"y":1.145},{"level":0.05,"i":14,"x":1.315,"y":1.30},{"level":0.05,"i":15,"x":1.905,"y":1.545},{"level":0.05,"i":16,"x":2.39,"y":1.84},{"level":0.05,"i":17,"x":2.70,"y":2.16},
{"level":0.10,"i":0,"x":2.47,"y":2.37},{"level":0.10,"i":1,"x":2.38,"y":2.57},{"level":0.10,"i":2,"x":2.13,"y":2.69},{"level":0.10,"i":3,"x":1.73,"y":2.74},{"level":0.10,"i":4,"x":1.26,"y":2.69},{"level":0.10,"i":5,"x":0.75,"y":2.57},{"level":0.10,"i":6,"x":0.27,"y":2.37},{"level":0.10,"i":7,"x":-0.13,"y":2.13},{"level":0.10,"i":8,"x":-0.38,"y":1.87},{"level":0.10,"i":9,"x":-0.47,"y":1.63},{"level":0.10,"i":10,"x":-0.38,"y":1.43},{"level":0.10,"i":11,"x":-0.13,"y":1.31},{"level":0.10,"i":12,"x":0.27,"y":1.26},{"level":0.10,"i":13,"x":0.75,"y":1.31},{"level":0.10,"i":14,"x":1.26,"y":1.43},{"level":0.10,"i":15,"x":1.73,"y":1.63},{"level":0.10,"i":16,"x":2.13,"y":1.87},{"level":0.10,"i":17,"x":2.38,"y":2.13},
{"level":0.15,"i":0,"x":2.22,"y":2.31},{"level":0.15,"i":1,"x":2.15,"y":2.47},{"level":0.15,"i":2,"x":1.94,"y":2.58},{"level":0.15,"i":3,"x":1.61,"y":2.61},{"level":0.15,"i":4,"x":1.21,"y":2.58},{"level":0.15,"i":5,"x":0.79,"y":2.47},{"level":0.15,"i":6,"x":0.39,"y":2.31},{"level":0.15,"i":7,"x":0.06,"y":2.11},{"level":0.15,"i":8,"x":-0.15,"y":1.89},{"level":0.15,"i":9,"x":-0.22,"y":1.69},{"level":0.15,"i":10,"x":-0.15,"y":1.53},{"level":0.15,"i":11,"x":0.06,"y":1.42},{"level":0.15,"i":12,"x":0.39,"y":1.39},{"level":0.15,"i":13,"x":0.79,"y":1.42},{"level":0.15,"i":14,"x":1.21,"y":1.53},{"level":0.15,"i":15,"x":1.61,"y":1.69},{"level":0.15,"i":16,"x":1.94,"y":1.89},{"level":0.15,"i":17,"x":2.15,"y":2.11},
{"level":0.20,"i":0,"x":2.01,"y":2.25},{"level":0.20,"i":1,"x":1.95,"y":2.39},{"level":0.20,"i":2,"x":1.78,"y":2.48},{"level":0.20,"i":3,"x":1.51,"y":2.51},{"level":0.20,"i":4,"x":1.18,"y":2.48},{"level":0.20,"i":5,"x":0.82,"y":2.39},{"level":0.20,"i":6,"x":0.49,"y":2.25},{"level":0.20,"i":7,"x":0.22,"y":2.09},{"level":0.20,"i":8,"x":0.05,"y":1.91},{"level":0.20,"i":9,"x":-0.01,"y":1.75},{"level":0.20,"i":10,"x":0.05,"y":1.61},{"level":0.20,"i":11,"x":0.22,"y":1.52},{"level":0.20,"i":12,"x":0.49,"y":1.49},{"level":0.20,"i":13,"x":0.82,"y":1.52},{"level":0.20,"i":14,"x":1.18,"y":1.61},{"level":0.20,"i":15,"x":1.51,"y":1.75},{"level":0.20,"i":16,"x":1.78,"y":1.91},{"level":0.20,"i":17,"x":1.95,"y":2.09},
{"level":0.25,"i":0,"x":1.81,"y":2.20},{"level":0.25,"i":1,"x":1.77,"y":2.32},{"level":0.25,"i":2,"x":1.63,"y":2.38},{"level":0.25,"i":3,"x":1.41,"y":2.41},{"level":0.25,"i":4,"x":1.14,"y":2.38},{"level":0.25,"i":5,"x":0.86,"y":2.32},{"level":0.25,"i":6,"x":0.59,"y":2.20},{"level":0.25,"i":7,"x":0.37,"y":2.07},{"level":0.25,"i":8,"x":0.23,"y":1.93},{"level":0.25,"i":9,"x":0.19,"y":1.80},{"level":0.25,"i":10,"x":0.23,"y":1.68},{"level":0.25,"i":11,"x":0.37,"y":1.62},{"level":0.25,"i":12,"x":0.59,"y":1.59},{"level":0.25,"i":13,"x":0.86,"y":1.62},{"level":0.25,"i":14,"x":1.14,"y":1.68},{"level":0.25,"i":15,"x":1.41,"y":1.80},{"level":0.25,"i":16,"x":1.63,"y":1.93},{"level":0.25,"i":17,"x":1.77,"y":2.07},
{"level":0.30,"i":0,"x":1.62,"y":2.155},{"level":0.30,"i":1,"x":1.58,"y":2.24},{"level":0.30,"i":2,"x":1.47,"y":2.29},{"level":0.30,"i":3,"x":1.31,"y":2.31},{"level":0.30,"i":4,"x":1.11,"y":2.29},{"level":0.30,"i":5,"x":0.89,"y":2.24},{"level":0.30,"i":6,"x":0.69,"y":2.155},{"level":0.30,"i":7,"x":0.53,"y":2.05},{"level":0.30,"i":8,"x":0.42,"y":1.95},{"level":0.30,"i":9,"x":0.38,"y":1.845},{"level":0.30,"i":10,"x":0.42,"y":1.76},{"level":0.30,"i":11,"x":0.53,"y":1.71},{"level":0.30,"i":12,"x":0.69,"y":1.69},{"level":0.30,"i":13,"x":0.89,"y":1.71},{"level":0.30,"i":14,"x":1.11,"y":1.76},{"level":0.30,"i":15,"x":1.31,"y":1.845},{"level":0.30,"i":16,"x":1.47,"y":1.95},{"level":0.30,"i":17,"x":1.58,"y":2.05},
{"level":0.35,"i":0,"x":1.38,"y":2.10},{"level":0.35,"i":1,"x":1.36,"y":2.15},{"level":0.35,"i":2,"x":1.29,"y":2.18},{"level":0.35,"i":3,"x":1.19,"y":2.19},{"level":0.35,"i":4,"x":1.07,"y":2.18},{"level":0.35,"i":5,"x":0.93,"y":2.15},{"level":0.35,"i":6,"x":0.81,"y":2.10},{"level":0.35,"i":7,"x":0.71,"y":2.03},{"level":0.35,"i":8,"x":0.64,"y":1.97},{"level":0.35,"i":9,"x":0.62,"y":1.90},{"level":0.35,"i":10,"x":0.64,"y":1.85},{"level":0.35,"i":11,"x":0.71,"y":1.82},{"level":0.35,"i":12,"x":0.81,"y":1.81},{"level":0.35,"i":13,"x":0.93,"y":1.82},{"level":0.35,"i":14,"x":1.07,"y":1.85},{"level":0.35,"i":15,"x":1.19,"y":1.90},{"level":0.35,"i":16,"x":1.29,"y":1.97},{"level":0.35,"i":17,"x":1.36,"y":2.03}]
},
"hconcat":[
{"width":400,"height":385,"view":{"stroke":null},
"encoding":{"x":{"field":"sx","type":"quantitative","scale":{"domain":[0,400],"nice":false,"zero":false},"axis":null},"y":{"field":"sy","type":"quantitative","scale":{"domain":[408,23],"nice":false,"zero":false},"axis":null}},
"layer":[
{"data":{"name":"panes"},"mark":{"type":"line","strokeWidth":0},"encoding":{"fill":{"field":"pane","type":"nominal","scale":{"domain":["a","b","c"],"range":["#f7f7f7","#f0f0f0","#f4f4f4"]},"legend":null},"order":{"field":"i"}}},
{"data":{"name":"grid"},"mark":{"type":"line","stroke":"#b8b8b8","strokeWidth":1.1},"encoding":{"detail":{"field":"g"},"order":{"field":"i"}}},
{"data":{"name":"axes"},"mark":{"type":"line","stroke":"#111","strokeWidth":1},"encoding":{"detail":{"field":"g"},"order":{"field":"i"}}},
{"data":{"name":"points"},"mark":{"type":"circle","size":9,"color":"#1f77b4","opacity":0.6},"encoding":{}},
{"data":{"name":"labels"},"mark":{"type":"text","fontSize":13,"color":"#111","align":"center","baseline":"middle"},"encoding":{"text":{"field":"label"}}}
]},
{"width":352,"height":385,"view":{"fill":"#481a6c","stroke":"#000","strokeWidth":1.3},
"encoding":{"x":{"field":"x","type":"quantitative","scale":{"domain":[-1.5,3.4],"nice":false,"zero":false},"axis":{"values":[-1,0,1,2,3],"title":null,"format":"d","grid":true,"gridColor":"#b0b0b0","gridOpacity":0.75,"gridWidth":1,"domain":false,"tickColor":"#000","tickSize":5,"labelFontSize":13,"labelColor":"#111","labelPadding":3,"zindex":1}},
"y":{"field":"y","type":"quantitative","scale":{"domain":[-0.5,4.4],"nice":false,"zero":false},"axis":{"values":[0,1,2,3,4],"title":null,"format":"d","grid":true,"gridColor":"#b0b0b0","gridOpacity":0.75,"gridWidth":1,"domain":false,"tickColor":"#000","tickSize":5,"labelFontSize":13,"labelColor":"#111","labelPadding":3,"zindex":1}}},
"layer":[
{"data":{"name":"contours"},"mark":{"type":"line","strokeWidth":0,"interpolate":"cardinal-closed"},"encoding":{"fill":{"field":"level","type":"ordinal","scale":{"domain":[0.05,0.10,0.15,0.20,0.25,0.30,0.35],"range":["#45468a","#33698f","#2a858e","#1fa187","#40bd72","#86d549","#dde318"]},"legend":null},"order":{"field":"i"}}},
{"data":{"values":[{"mark":"CSDN @云端FFF","x":1.586,"y":-0.68}]},"mark":{"type":"text","align":"left","baseline":"middle","fontSize":19,"font":"Noto Sans CJK SC","color":"#888888","opacity":0.8},"encoding":{"text":{"field":"mark"}}}
]}
]}
